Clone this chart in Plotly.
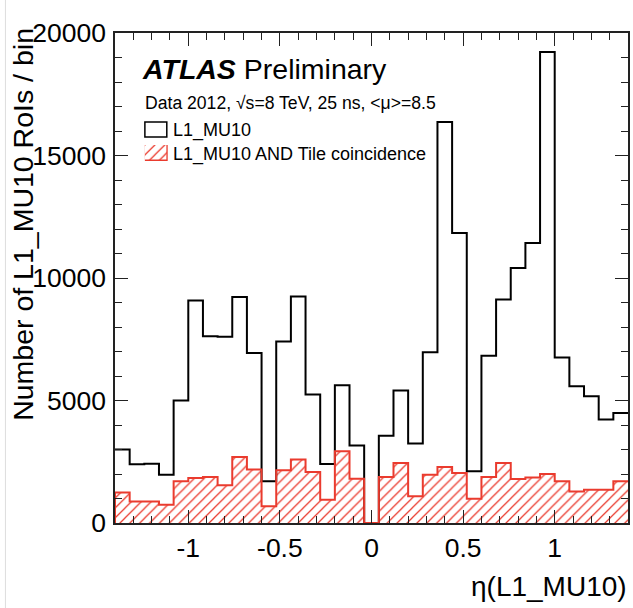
import plotly.graph_objects as go

# ---------------- data ----------------
eta_edges = [-1.40, -1.32, -1.24, -1.16, -1.08, -1.00, -0.92, -0.84, -0.76, -0.68,
             -0.60, -0.52, -0.44, -0.36, -0.28, -0.20, -0.12, -0.04, 0.04, 0.12,
             0.20, 0.28, 0.36, 0.44, 0.52, 0.60, 0.68, 0.76, 0.84, 0.92,
             1.00, 1.08, 1.16, 1.24, 1.32, 1.40]

mu10_counts = [3000, 2400, 2420, 1970, 5000, 9080, 7620, 7600, 9220, 6940,
               1700, 7410, 9250, 5240, 2410, 5620, 3160, 0, 3560, 5410,
               3240, 6970, 16370, 11840, 2110, 6830, 9120, 10410, 11430, 19220,
               6760, 5580, 5170, 4220, 4490]

tile_counts = [1250, 880, 880, 750, 1700, 1840, 1880, 1540, 2690, 2180,
               680, 2150, 2590, 2080, 950, 2930, 1810, 0, 1880, 2450,
               1090, 1970, 2290, 2040, 990, 1880, 2450, 1800, 1860, 2000,
               1700, 1290, 1360, 1360, 1700]

x_ticks = [-1, -0.5, 0, 0.5, 1]
x_tick_labels = ["-1", "-0.5", "0", "0.5", "1"]
y_ticks = [0, 5000, 10000, 15000, 20000]
y_tick_labels = ["0", "5000", "10000", "15000", "20000"]

label_mu10 = "L1_MU10"
label_tile = "L1_MU10 AND Tile coincidence"

# --------------- styling ---------------
W, H = 633, 608
ML, MR, MT, MB = 115, 3, 33, 85
PW, PH = W - ML - MR, H - MT - MB
FONT = "Liberation Sans, Arial, Helvetica, sans-serif"
RED = "#ea3b2e"


def px(x):
    return (x - ML) / PW


def py(y):
    return (H - MB - y) / PH


centers = [(a + b) / 2 for a, b in zip(eta_edges[:-1], eta_edges[1:])]
widths = [b - a for a, b in zip(eta_edges[:-1], eta_edges[1:])]

fig = go.Figure()

# black step histogram
fig.add_trace(go.Scatter(
    x=eta_edges, y=mu10_counts + [mu10_counts[-1]],
    mode="lines", line=dict(color="black", width=2, shape="hv"),
    showlegend=False, hoverinfo="skip"))

# red hatched fill
fig.add_trace(go.Bar(
    x=centers, y=tile_counts, width=widths,
    marker=dict(color="rgba(0,0,0,0)",
                line=dict(width=0),
                pattern=dict(shape="/", fgcolor=RED, bgcolor="rgba(0,0,0,0)",
                             size=7, solidity=0.18, fillmode="replace")),
    showlegend=False, hoverinfo="skip"))

# red outline
fig.add_trace(go.Scatter(
    x=[eta_edges[0]] + eta_edges, y=[0] + tile_counts + [tile_counts[-1]],
    mode="lines", line=dict(color=RED, width=2, shape="hv"),
    showlegend=False, hoverinfo="skip"))

# legend hatched box (inset axis)
fig.add_trace(go.Bar(
    x=[0.5], y=[1], width=[1], xaxis="x2", yaxis="y2",
    marker=dict(color="rgba(0,0,0,0)",
                line=dict(width=1.5, color=RED),
                pattern=dict(shape="/", fgcolor=RED, bgcolor="rgba(0,0,0,0)",
                             size=7, solidity=0.18, fillmode="replace")),
    showlegend=False, hoverinfo="skip"))

axis_common = dict(showgrid=False, zeroline=False, showline=True,
                   linecolor="#222", linewidth=1.5, mirror="allticks",
                   ticks="inside", ticklen=13, tickwidth=1.2, tickcolor="#222",
                   tickfont=dict(family=FONT, size=26.5, color="black"))

fig.update_layout(
    width=W, height=H,
    margin=dict(l=ML, r=MR, t=MT, b=MB),
    paper_bgcolor="white", plot_bgcolor="white",
    bargap=0, barmode="overlay",
    xaxis=dict(range=[eta_edges[0], eta_edges[-1]], tickvals=x_ticks,
               ticktext=x_tick_labels,
               minor=dict(dtick=0.1, tick0=0, ticks="inside", ticklen=7,
                          tickcolor="#222", tickwidth=1),
               **axis_common),
    yaxis=dict(range=[0, 20000], tickvals=y_ticks, ticktext=y_tick_labels,
               ticklabelstandoff=2,
               minor=dict(dtick=1000, tick0=0, ticks="inside", ticklen=7,
                          tickcolor="#222", tickwidth=1),
               **axis_common),
    xaxis2=dict(domain=[px(145), px(168)], range=[0, 1], visible=False,
                anchor="y2", fixedrange=True),
    yaxis2=dict(domain=[py(161), py(145)], range=[0, 1], visible=False,
                anchor="x2", fixedrange=True),
    showlegend=False,
)

# black legend box
fig.add_shape(type="rect", xref="paper", yref="paper",
              x0=px(145), x1=px(167), y0=py(137), y1=py(122),
              line=dict(color="black", width=1.5))

# faint screenshot border line at left
fig.add_shape(type="line", xref="paper", yref="paper",
              x0=px(5), x1=px(5), y0=py(608), y1=py(0),
              line=dict(color="#dddddd", width=1))

ann = []
ann.append(dict(text="<b><i>ATLAS</i></b> Preliminary", x=px(140), y=py(69),
                font=dict(family=FONT, size=28.5, color="black")))
ann.append(dict(text="Data 2012, √s=8 TeV, 25 ns, <μ>=8.5", x=px(143), y=py(103),
                font=dict(family=FONT, size=17.6, color="black")))
ann.append(dict(text=label_mu10, x=px(171), y=py(130),
                font=dict(family=FONT, size=18, color="black")))
ann.append(dict(text=label_tile, x=px(171), y=py(154),
                font=dict(family=FONT, size=18, color="black")))
for a in ann:
    a.update(xref="paper", yref="paper", xanchor="left", yanchor="middle",
             showarrow=False)
    fig.add_annotation(**a)

# axis titles
fig.add_annotation(text="η(L1_MU10)", xref="paper", yref="paper",
                   x=px(631), y=py(586), xanchor="right", yanchor="middle",
                   showarrow=False, font=dict(family=FONT, size=28, color="black"))
fig.add_annotation(text="Number of L1_MU10 RoIs / bin", xref="paper", yref="paper",
                   x=px(22), y=py(26), xanchor="center", yanchor="top",
                   textangle=-90, showarrow=False,
                   font=dict(family=FONT, size=28.5, color="black"))

fig.write_html("out.html")
